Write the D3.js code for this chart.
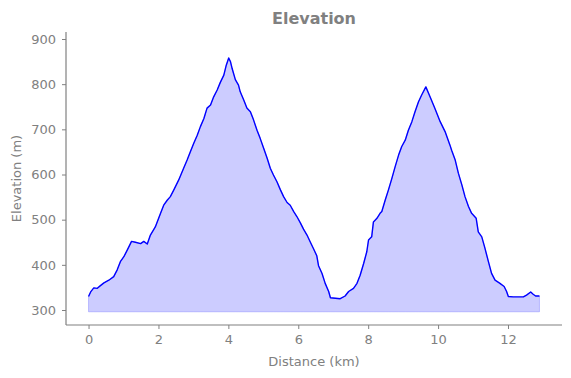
<!DOCTYPE html>
<html>
<head>
<meta charset="utf-8">
<script src="https://cdn.jsdelivr.net/npm/d3@7"></script>
<style>
  body { margin: 0; background: #fff; }
  svg text { font-family: "DejaVu Sans", sans-serif; fill: #808080; }
</style>
</head>
<body>
<svg id="chart"></svg>
<script>
// distance along the route (km) and elevation (m)
const distances = [
  0.00, 0.06, 0.15, 0.25, 0.34, 0.44, 0.58, 0.72, 0.82, 0.91, 1.01, 1.11, 1.23, 1.34, 1.49, 1.58, 1.68, 1.77, 1.91,
  2.06, 2.15, 2.25, 2.34, 2.44, 2.58, 2.72, 2.82, 2.91, 3.01, 3.11, 3.20, 3.30, 3.39, 3.49, 3.58, 3.68, 3.77, 3.87, 3.94,
  4.01, 4.06, 4.11, 4.20, 4.29, 4.34, 4.44, 4.53, 4.63, 4.72, 4.82, 4.91, 5.01, 5.11, 5.20, 5.29, 5.39, 5.49, 5.58, 5.68,
  5.77, 5.87, 5.96, 6.06, 6.15, 6.25, 6.34, 6.44, 6.53, 6.58, 6.68, 6.77, 6.87, 6.92, 7.06, 7.20, 7.34, 7.44, 7.58, 7.68,
  7.77, 7.87, 7.96, 8.01, 8.10, 8.15, 8.25, 8.34, 8.39, 8.49, 8.58, 8.68, 8.77, 8.87, 8.96, 9.06, 9.15, 9.25, 9.34, 9.44,
  9.53, 9.65, 9.77, 9.91, 10.06, 10.20, 10.34, 10.39, 10.49, 10.58, 10.68, 10.77, 10.87, 10.96, 11.09, 11.15, 11.25,
  11.34, 11.44, 11.53, 11.63, 11.77, 11.89, 11.96, 12.01, 12.15, 12.44, 12.53, 12.65, 12.72, 12.79, 12.90
];
const elevations = [
  330, 340, 349, 348, 354, 360, 366, 374, 389, 407, 418, 433, 452, 450, 447, 452, 446, 466, 484,
  514, 532, 543, 551, 566, 588, 614, 632, 650, 669, 687, 706, 724, 747, 754, 772, 787, 804, 820, 842,
  858, 850, 834, 810, 798, 783, 765, 747, 739, 721, 698, 680, 658, 636, 614, 599, 584, 566, 551, 538,
  532, 518, 507, 493, 479, 466, 451, 435, 420, 398, 381, 359, 341, 327, 326, 325, 331, 341, 348, 359,
  377, 403, 429, 455, 462, 495, 503, 514, 518, 544, 566, 592, 617, 643, 662, 676, 698, 717, 739, 761,
  776, 794, 772, 746, 717, 695, 665, 653, 632, 603, 577, 551, 529, 514, 503, 473, 462,
  437, 407, 381, 366, 359, 352, 341, 330, 329, 329, 333, 340, 335, 331, 331
];
const xTicks = [0, 2, 4, 6, 8, 10, 12];
const yTicks = [300, 400, 500, 600, 700, 800, 900];
const fillBase = 296;

const width = 571, height = 378;
const margin = { top: 32, right: 9, bottom: 53, left: 66 };

const svg = d3.select("#chart")
  .attr("width", width)
  .attr("height", height);

const x = d3.scaleLinear().domain([-0.645, 13.545]).range([margin.left, width - margin.right]);
const y = d3.scaleLinear().domain([266.8, 915.5]).range([height - margin.bottom, margin.top]);

const points = distances.map((d, i) => ({ d: d, e: elevations[i] }));

// shaded area under the profile
const area = d3.area()
  .x(p => x(p.d))
  .y0(y(fillBase))
  .y1(p => y(p.e));

svg.append("path")
  .datum(points)
  .attr("d", area)
  .attr("fill", "rgba(0,0,255,0.2)")
  .attr("stroke", "rgba(0,0,255,0.2)")
  .attr("stroke-width", 1);

const line = d3.line()
  .x(p => x(p.d))
  .y(p => y(p.e));

svg.append("path")
  .datum(points)
  .attr("d", line)
  .attr("fill", "none")
  .attr("stroke", "blue")
  .attr("stroke-width", 1.4)
  .attr("stroke-linejoin", "round");

// axes
const xAxis = svg.append("g")
  .attr("transform", `translate(0,${height - margin.bottom})`)
  .call(d3.axisBottom(x).tickValues(xTicks).tickSize(4).tickPadding(6));

const yAxis = svg.append("g")
  .attr("transform", `translate(${margin.left},0)`)
  .call(d3.axisLeft(y).tickValues(yTicks).tickSize(4).tickPadding(6));

[xAxis, yAxis].forEach(g => {
  g.select(".domain").attr("stroke", "#808080").attr("stroke-width", 1.2);
  g.selectAll(".tick line").attr("stroke", "#808080").attr("stroke-width", 1);
  g.selectAll(".tick text")
    .attr("font-size", 13)
    .attr("font-family", "DejaVu Sans, sans-serif")
    .attr("fill", "#808080");
});

// remove the end caps of the axis domain
xAxis.select(".domain").attr("d", `M${margin.left},0H${width - margin.right}`);
yAxis.select(".domain").attr("d", `M0,${height - margin.bottom}V${margin.top}`);

const midX = (margin.left + width - margin.right) / 2;
const midY = (margin.top + height - margin.bottom) / 2;

svg.append("text")
  .attr("x", midX)
  .attr("y", 24)
  .attr("text-anchor", "middle")
  .attr("font-size", 16)
  .attr("font-weight", "bold")
  .text("Elevation");

svg.append("text")
  .attr("x", midX)
  .attr("y", 366)
  .attr("text-anchor", "middle")
  .attr("font-size", 13)
  .text("Distance (km)");

svg.append("text")
  .attr("transform", `translate(21,${midY}) rotate(-90)`)
  .attr("text-anchor", "middle")
  .attr("font-size", 13)
  .text("Elevation (m)");
</script>
</body>
</html>
